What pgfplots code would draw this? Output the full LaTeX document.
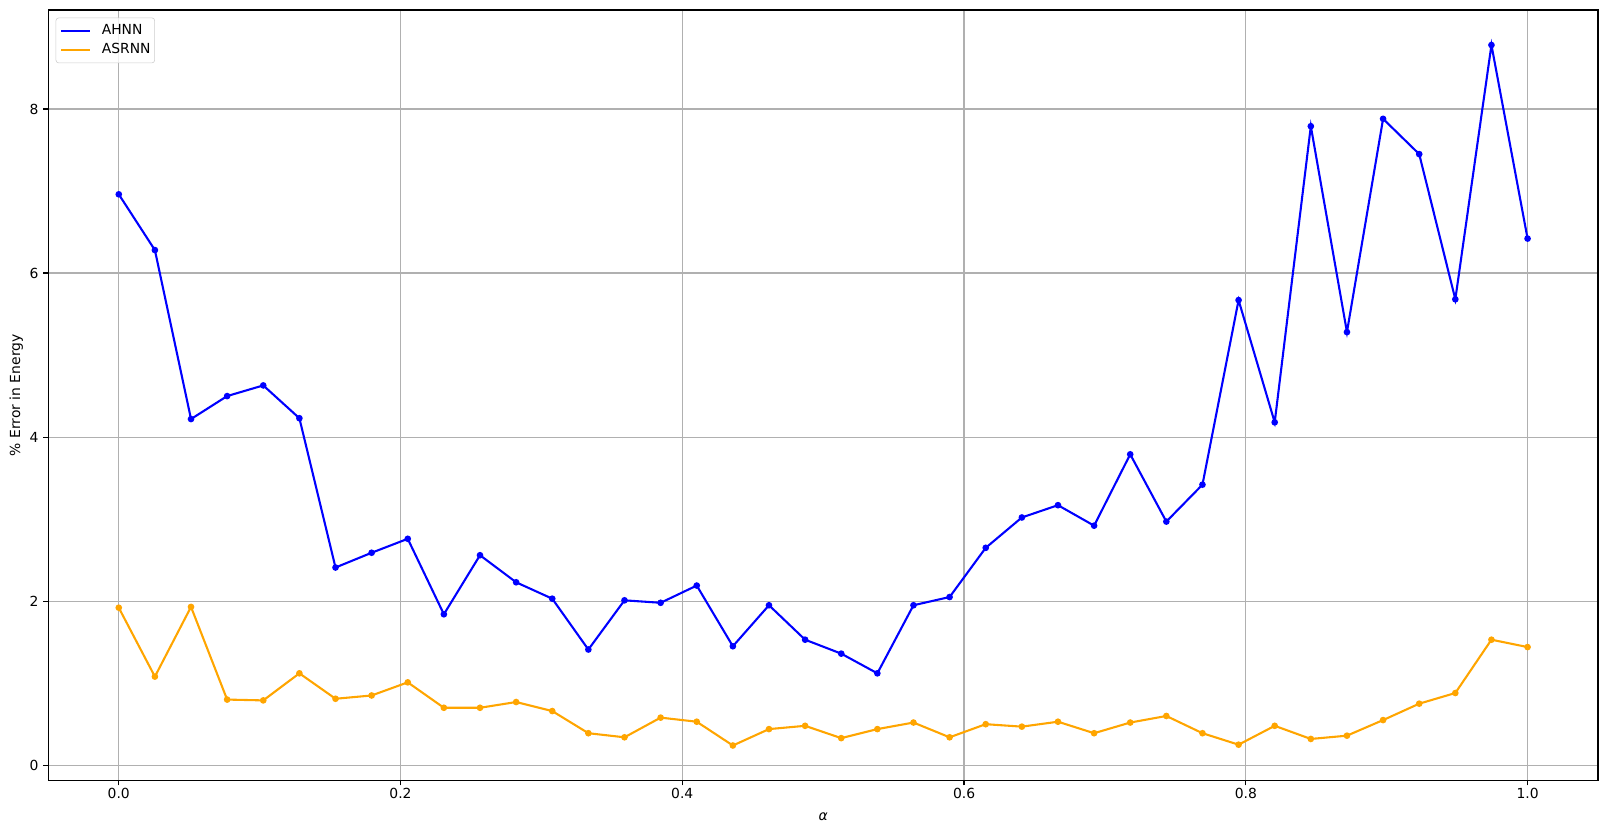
\documentclass[border=0pt]{standalone}
\usepackage{fontspec}
\setmainfont{DejaVu Sans}
\usepackage{pgfplots}
\usepackage{pgfplotstable}
\pgfplotsset{compat=1.18}
\definecolor{gridgray}{HTML}{B0B0B0}
\definecolor{legendgray}{HTML}{CCCCCC}
\definecolor{mplorange}{RGB}{255,165,0}
\pgfplotstableread{
x ahnn asrnn
0       6.96 1.92
0.02564 6.28 1.08
0.05128 4.22 1.93
0.07692 4.50 0.80
0.10256 4.63 0.79
0.12821 4.23 1.12
0.15385 2.41 0.81
0.17949 2.59 0.85
0.20513 2.76 1.01
0.23077 1.84 0.70
0.25641 2.56 0.70
0.28205 2.23 0.77
0.30769 2.03 0.66
0.33333 1.41 0.39
0.35897 2.01 0.34
0.38462 1.98 0.58
0.41026 2.19 0.53
0.43590 1.45 0.24
0.46154 1.95 0.44
0.48718 1.53 0.48
0.51282 1.36 0.33
0.53846 1.12 0.44
0.56410 1.95 0.52
0.58974 2.05 0.34
0.61538 2.65 0.50
0.64103 3.02 0.47
0.66667 3.17 0.53
0.69231 2.92 0.39
0.71795 3.79 0.52
0.74359 2.97 0.60
0.76923 3.42 0.39
0.79487 5.67 0.25
0.82051 4.18 0.48
0.84615 7.79 0.32
0.87179 5.28 0.36
0.89744 7.88 0.55
0.92308 7.45 0.75
0.94872 5.68 0.88
0.97436 8.78 1.53
1       6.42 1.44
}\datatable
\begin{document}
\begin{tikzpicture}
\path[use as bounding box] (-34.8pt,-37.8pt) rectangle (1115.8pt+7.2pt,554.8pt+7.2pt);
\begin{axis}[
  scale only axis,
  width=1115.8pt, height=554.8pt,
  at={(0,0)}, anchor=south west,
  xmin=-0.05, xmax=1.05,
  ymin=-0.187, ymax=9.207,
  xtick={0,0.2,0.4,0.6,0.8,1.0},
  ytick={0,2,4,6,8},
  xticklabel style={yshift=1.5pt, /pgf/number format/.cd, fixed, fixed zerofill, precision=1},
  yticklabel style={/pgf/number format/.cd, fixed, precision=0},
  /pgf/number format/assume math mode=true,
  tick label style={font=\fontsize{10}{12}\selectfont, color=black},
  tick align=outside,
  tick pos=left,
  major tick length=3.5pt,
  every tick/.style={black, line width=0.8pt},
  axis line style={line width=0.8pt, black},
  grid=major,
  major grid style={gridgray, line width=0.8pt},
  xlabel={\itshape α},
  ylabel={\% Error in Energy},
  label style={font=\fontsize{10}{12}\selectfont},
  xlabel style={at={(axis description cs:0.5,0)}, anchor=center, yshift=-26pt},
  ylabel style={at={(axis description cs:0,0.5)}, anchor=center, yshift=23pt},
  legend style={at={(0,1)}, anchor=north west, xshift=5.3pt, yshift=-5.5pt,
    draw=legendgray, rounded corners=2pt, fill=white, fill opacity=0.8, text opacity=1,
    font=\fontsize{10}{12}\selectfont, inner xsep=3pt, inner ysep=4.5pt,
    row sep=4.4pt,
    nodes={inner xsep=0pt, inner ysep=0pt, text height=7.5pt, text depth=2pt}},
  legend cell align=left,
  legend image code/.code={\draw[#1,mark=none] (0pt,0pt) -- (21pt,0pt);},
  legend style={/tikz/every odd column/.append style={column sep=7.5pt}},
]
\addplot[blue, line width=1.5pt, mark=*, mark size=1.6pt, mark options={solid}] table[x=x, y=ahnn] {\datatable};
\addlegendentry{AHNN}
\addplot[mplorange, line width=1.5pt, mark=*, mark size=1.6pt, mark options={solid}] table[x=x, y=asrnn] {\datatable};
\addlegendentry{ASRNN}
\end{axis}
\end{tikzpicture}
\end{document}
